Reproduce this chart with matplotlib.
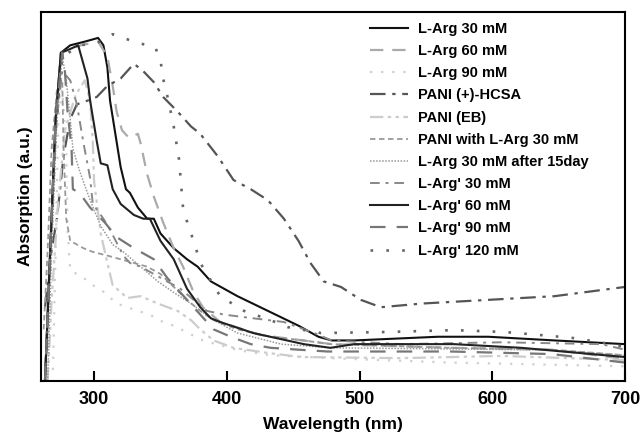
import matplotlib
matplotlib.use("Agg")
import matplotlib.pyplot as plt

plt.rcParams['font.family'] = ['Liberation Sans', 'DejaVu Sans']
plt.rcParams['font.weight'] = 'bold'

# ---- data (wavelength in nm, absorption in a.u.) ----
larg30_w = [263, 267, 271, 275, 282, 293, 303, 307, 310, 312, 316, 320, 324, 327, 333, 340,
            345, 350, 360, 370, 378, 388, 408, 431, 454, 469, 479, 496, 559, 597, 647, 700]
larg30_a = [0.00, 0.36, 0.71, 0.89, 0.91, 0.92, 0.93, 0.91, 0.85, 0.76, 0.67, 0.58, 0.52, 0.51, 0.47, 0.44,
            0.44, 0.40, 0.36, 0.33, 0.31, 0.27, 0.23, 0.19, 0.15, 0.12, 0.11, 0.11, 0.12, 0.12, 0.11, 0.10]

larg60_w = [263, 267, 271, 275, 290, 303, 310, 314, 317, 321, 326, 333, 335, 340, 345, 352,
            360, 367, 375, 382, 395, 425, 479, 569, 645, 700]
larg60_a = [0.03, 0.36, 0.71, 0.89, 0.91, 0.92, 0.88, 0.80, 0.73, 0.68, 0.66, 0.67, 0.645, 0.56, 0.50, 0.43,
            0.36, 0.31, 0.24, 0.20, 0.16, 0.125, 0.10, 0.09, 0.085, 0.06]

larg90_w = [269, 271, 273, 276, 279, 280, 282, 292, 299, 308, 317, 325, 333, 342, 352, 360,
            382, 408, 433, 478, 569, 700]
larg90_a = [0.03, 0.355, 0.71, 0.79, 0.63, 0.41, 0.30, 0.28, 0.26, 0.24, 0.21, 0.20, 0.19, 0.18, 0.16, 0.15,
            0.11, 0.084, 0.07, 0.062, 0.05, 0.04]

hcsa_w = [263, 268, 272, 277, 282, 287, 295, 302, 310, 320, 330, 337, 345, 352, 363, 373,
          380, 393, 405, 418, 431, 443, 454, 463, 473, 486, 501, 516, 547, 597, 647, 700]
hcsa_a = [0.20, 0.355, 0.44, 0.61, 0.71, 0.75, 0.76, 0.77, 0.80, 0.82, 0.86, 0.84, 0.81, 0.77, 0.73, 0.69,
          0.67, 0.61, 0.545, 0.52, 0.49, 0.44, 0.38, 0.32, 0.27, 0.255, 0.22, 0.20, 0.21, 0.22, 0.23, 0.255]

eb_w = [265, 268, 273, 278, 286, 293, 297, 299, 300, 305, 310, 314, 325, 335, 348, 363,
        373, 380, 390, 405, 431, 456, 531, 607, 700]
eb_a = [0.00, 0.22, 0.49, 0.68, 0.775, 0.815, 0.76, 0.65, 0.54, 0.40, 0.32, 0.26, 0.225, 0.23, 0.21, 0.19,
        0.165, 0.14, 0.11, 0.09, 0.076, 0.065, 0.062, 0.068, 0.057]

pani_larg_w = [262, 265, 268, 272, 276, 277, 279, 282, 292, 299, 310, 320, 330, 340, 350, 360,
               370, 380, 390, 408, 433, 458, 478, 569, 645, 700]
pani_larg_a = [0.14, 0.355, 0.63, 0.79, 0.815, 0.63, 0.44, 0.38, 0.36, 0.35, 0.34, 0.33, 0.32, 0.31, 0.29, 0.255,
               0.22, 0.19, 0.165, 0.14, 0.12, 0.11, 0.10, 0.09, 0.085, 0.07]

day15_w = [265, 268, 272, 276, 279, 282, 284, 289, 297, 305, 314, 322, 335, 348, 360, 373,
           388, 408, 441, 478, 569, 645, 700]
day15_a = [0.00, 0.355, 0.71, 0.88, 0.815, 0.71, 0.63, 0.57, 0.49, 0.42, 0.37, 0.35, 0.31, 0.27, 0.24, 0.21,
           0.17, 0.13, 0.10, 0.09, 0.087, 0.084, 0.07]

largp30_w = [263, 267, 271, 276, 282, 287, 292, 297, 299, 307, 312, 322, 327, 335, 345, 355,
             365, 375, 385, 398, 420, 443, 466, 479, 531, 607, 682, 700]
largp30_a = [0.00, 0.355, 0.68, 0.84, 0.815, 0.75, 0.645, 0.55, 0.48, 0.44, 0.41, 0.34, 0.32, 0.31, 0.29, 0.27,
             0.25, 0.22, 0.19, 0.18, 0.17, 0.16, 0.13, 0.11, 0.10, 0.105, 0.10, 0.085]

largp60_w = [263, 267, 271, 275, 282, 288, 295, 297, 302, 305, 310, 314, 320, 330, 337, 342,
             350, 360, 370, 380, 388, 395, 420, 458, 478, 496, 571, 622, 700]
largp60_a = [0.00, 0.36, 0.71, 0.89, 0.90, 0.91, 0.82, 0.76, 0.65, 0.59, 0.585, 0.52, 0.48, 0.45, 0.44, 0.44,
             0.38, 0.33, 0.25, 0.20, 0.17, 0.16, 0.13, 0.10, 0.09, 0.10, 0.10, 0.09, 0.065]

largp90_w = [263, 267, 271, 276, 278, 280, 283, 284, 289, 297, 308, 317, 330, 345, 355, 370,
             380, 390, 403, 418, 433, 458, 476, 569, 645, 700]
largp90_a = [0.00, 0.355, 0.71, 0.89, 0.84, 0.73, 0.63, 0.52, 0.51, 0.47, 0.43, 0.39, 0.36, 0.33, 0.28, 0.22,
             0.18, 0.14, 0.12, 0.10, 0.09, 0.084, 0.08, 0.08, 0.073, 0.05]

largp120_w = [263, 267, 271, 276, 290, 305, 314, 330, 340, 346, 350, 352, 356, 360, 364, 367,
              371, 375, 380, 395, 413, 433, 446, 471, 522, 571, 609, 635, 660, 680, 700]
largp120_a = [0.00, 0.33, 0.68, 0.88, 0.91, 0.92, 0.94, 0.92, 0.91, 0.905, 0.87, 0.82, 0.76, 0.69, 0.60, 0.47,
              0.42, 0.38, 0.32, 0.23, 0.19, 0.165, 0.146, 0.13, 0.133, 0.138, 0.133, 0.125, 0.117, 0.106, 0.092]

xticks = [300, 400, 500, 600, 700]

# (wavelength, absorption, label, colour, dash pattern, width)
series = [
    (larg30_w, larg30_a, 'L-Arg 30 mM', '#111111', None, 1.5),
    (larg60_w, larg60_a, 'L-Arg 60 mM', '#aaaaaa', (6, 4), 1.6),
    (larg90_w, larg90_a, 'L-Arg 90 mM', '#cfcfcf', (1, 4), 1.6),
    (hcsa_w, hcsa_a, 'PANI (+)-HCSA', '#555555', (7, 3, 1.5, 3), 1.6),
    (eb_w, eb_a, 'PANI (EB)', '#cccccc', (6, 2, 1.5, 2, 1.5, 2), 1.6),
    (pani_larg_w, pani_larg_a, 'PANI with L-Arg 30 mM', '#999999', (3, 2), 1.3),
    (day15_w, day15_a, 'L-Arg 30 mM after 15day', '#999999', (1, 1), 1.1),
    (largp30_w, largp30_a, "L-Arg' 30 mM", '#888888', (5, 3, 1.5, 3), 1.4),
    (largp60_w, largp60_a, "L-Arg' 60 mM", '#222222', None, 1.5),
    (largp90_w, largp90_a, "L-Arg' 90 mM", '#777777', (7, 5), 1.6),
    (largp120_w, largp120_a, "L-Arg' 120 mM", '#666666', (1, 5), 1.9),
]

fig = plt.figure(figsize=(6.41, 4.32), dpi=100)
ax = fig.add_axes([0.064, 0.118, 0.911, 0.854])

for w, a, label, color, dashes, lw in series:
    line, = ax.plot(w, a, color=color, lw=lw, label=label)
    if dashes is not None:
        line.set_dashes(dashes)

ax.set_xlim(260, 700)
ax.set_ylim(0, 1)
ax.set_xticks(xticks)
ax.set_yticks([])
ax.tick_params(axis='x', direction='in', length=7, width=1.5, pad=7, labelsize=13)
for s in ax.spines.values():
    s.set_linewidth(1.5)

ax.set_xlabel('Wavelength (nm)', fontsize=12.5, fontweight='bold', labelpad=7)
ax.set_ylabel('Absorption (a.u.)', fontsize=12.5, fontweight='bold', labelpad=6)

leg = ax.legend(loc='upper left', bbox_to_anchor=(370 / 641, 1 - 22 / 432),
                bbox_transform=fig.transFigure, frameon=False, fontsize=10.5,
                handlelength=2.6, handletextpad=0.7, labelspacing=0.56,
                borderpad=0, borderaxespad=0)
for t in leg.get_texts():
    t.set_fontweight('bold')

fig.savefig('out.png', dpi=100)
